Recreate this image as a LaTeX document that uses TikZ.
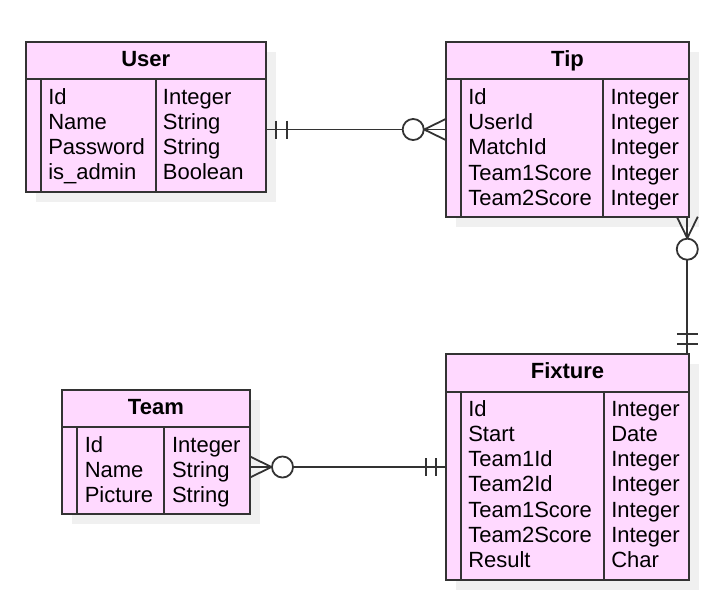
\documentclass[tikz,border=0pt]{standalone}
\usepackage{fontspec}
\setmainfont{Liberation Sans}
\usetikzlibrary{fit,shadows,calc}
\definecolor{erpink}{RGB}{255,217,255}
\definecolor{erline}{RGB}{51,51,51}
\definecolor{ershadow}{RGB}{240,240,240}
\tikzset{
	entity/.style={draw=erline, line width=1.35pt, fill=erpink, inner sep=0pt, outer sep=0pt,
		drop shadow={shadow xshift=7.5pt, shadow yshift=-7.5pt, fill=ershadow, opacity=1}},
	head/.style={font=\fontsize{16.5}{19}\selectfont\bfseries, text=black, inner sep=0pt, anchor=base},
	field/.style={font=\fontsize{16.5}{19}\selectfont, text=black, inner sep=0pt, anchor=base west},
	rel/.style={draw=erline, line width=1.35pt}
}
\begin{document}
\begin{tikzpicture}[x=0.75pt, y=-0.75pt]
	\useasboundingbox[fill=white] (0,0) rectangle (719,601);
	% User
	\node[entity, fit={(25.7,42.3) (266,192)}] (user) {};
	\draw[rel] (25.7,79.3) -- (266,79.3) (41,79.3) -- (41,192) (155.7,79.3) -- (155.7,192);
	\node[head] (user-h) at (145.8,66.3) {User};
	\foreach \n/\t [count=\i] in {Id/Integer, Name/String, Password/String, is\_admin/Boolean} {
		\node[field] (user-n\i) at (48,79+25*\i) {\n};
		\node[field] (user-t\i) at (162.7,79+25*\i) {\t};
	}
	% Tip
	\node[entity, fit={(445.7,42.3) (689.3,216.7)}] (tip) {};
	\draw[rel] (445.7,79.3) -- (689.3,79.3) (461,79.3) -- (461,216.7) (603.3,79.3) -- (603.3,216.7);
	\node[head] (tip-h) at (567.5,66.3) {Tip};
	\foreach \n/\t [count=\i] in {Id/Integer, UserId/Integer, MatchId/Integer, Team1Score/Integer, Team2Score/Integer} {
		\node[field] (tip-n\i) at (468,78.6+25.4*\i) {\n};
		\node[field] (tip-t\i) at (610.3,78.6+25.4*\i) {\t};
	}
	% Fixture
	\node[entity, fit={(445.7,354) (689.3,580)}] (fixture) {};
	\draw[rel] (445.7,391.7) -- (689.3,391.7) (461,391.7) -- (461,580) (604,391.7) -- (604,580);
	\node[head] (fixture-h) at (567.5,378.2) {Fixture};
	\foreach \n/\t [count=\i] in {Id/Integer, Start/Date, Team1Id/Integer, Team2Id/Integer, Team1Score/Integer, Team2Score/Integer, Result/Char} {
		\node[field] (fixture-n\i) at (468,391.5+25.1*\i) {\n};
		\node[field] (fixture-t\i) at (611,391.5+25.1*\i) {\t};
	}
	% Team
	\node[entity, fit={(61.7,390) (250,514.3)}] (team) {};
	\draw[rel] (61.7,426.7) -- (250,426.7) (76.7,426.7) -- (76.7,514.3) (164.3,426.7) -- (164.3,514.3);
	\node[head] (team-h) at (155.9,414) {Team};
	\foreach \n/\t [count=\i] in {Id/Integer, Name/String, Picture/String} {
		\node[field] (team-n\i) at (84.5,427.3+25*\i) {\n};
		\node[field] (team-t\i) at (171.8,427.3+25*\i) {\t};
	}
	% User -- Tip
	\coordinate (ut) at (user.east |- tip.west);
	\draw[rel] (ut) -- (tip.west);
	\draw[rel] ($(ut)+(10,-9)$) -- ($(ut)+(10,9)$) ($(ut)+(20.7,-9)$) -- ($(ut)+(20.7,9)$);
	\draw[rel] ($(tip.west)+(0,-10.5)$) -- ($(tip.west)+(-21.5,0)$) -- ($(tip.west)+(0,10.5)$);
	\draw[rel, fill=white] ($(tip.west)+(-32.5,0)$) circle[radius=7.9pt];
	% Tip -- Fixture
	\coordinate (tf) at ([xshift=-1.5pt]tip.south east);
	\coordinate (ft) at (tf |- fixture.north);
	\draw[rel] (tf) -- (ft);
	\draw[rel] ($(tf)+(-10.5,0)$) -- ($(tf)+(0,21.5)$) -- ($(tf)+(10.5,0)$);
	\draw[rel, fill=white] ($(tf)+(0,32.5)$) circle[radius=7.9pt];
	\draw[rel] ($(ft)+(-10.5,-20)$) -- ($(ft)+(10.5,-20)$) ($(ft)+(-10.5,-10)$) -- ($(ft)+(10.5,-10)$);
	% Team -- Fixture
	\coordinate (tm) at (team.east |- fixture.west);
	\draw[rel] (tm) -- (fixture.west);
	\draw[rel] ($(tm)+(0,-10.5)$) -- ($(tm)+(21.5,0)$) -- ($(tm)+(0,10.5)$);
	\draw[rel, fill=white] ($(tm)+(32.5,0)$) circle[radius=7.9pt];
	\draw[rel] ($(fixture.west)+(-20,-9)$) -- ($(fixture.west)+(-20,9)$) ($(fixture.west)+(-10,-9)$) -- ($(fixture.west)+(-10,9)$);
\end{tikzpicture}
\end{document}
